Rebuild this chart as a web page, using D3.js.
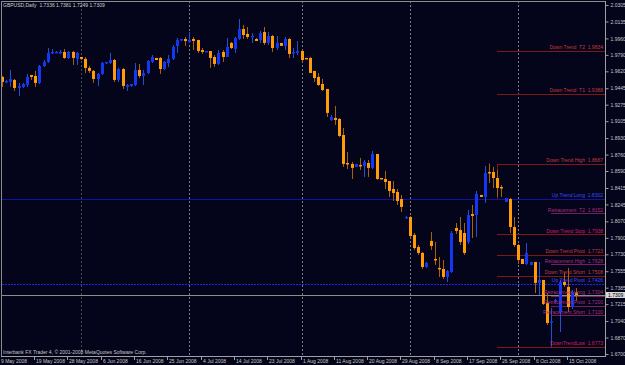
<!DOCTYPE html>
<html>
<head>
<meta charset="utf-8">
<script src="https://cdn.jsdelivr.net/npm/d3@7/dist/d3.min.js"></script>
<style>
  body { margin: 0; background: #04041a; }
  svg { display: block; }
  text { font-family: "Liberation Sans", Arial, sans-serif; font-size: 5px; white-space: pre; }
</style>
</head>
<body>
<svg id="chart" width="625" height="365"></svg>
<script>
// daily GBPUSD bars, 9 May 2008 .. 17 Oct 2008 (MT4 also prints Sunday bars)
var opens = [
  1.9562,1.9510,1.9510,1.9531,1.9448,1.9458,1.9479,1.9582,1.9572,1.9500,
  1.9675,1.9717,1.9810,1.9810,1.9810,1.9820,1.9758,1.9820,1.9748,1.9768,
  1.9748,1.9655,1.9624,1.9541,1.9593,1.9706,1.9706,1.9737,1.9531,1.9644,
  1.9458,1.9469,1.9479,1.9634,1.9572,1.9603,1.9717,1.9758,1.9758,1.9644,
  1.9706,1.9748,1.9882,1.9944,1.9954,1.9923,1.9954,1.9944,1.9840,1.9820,
  1.9830,1.9768,1.9696,1.9820,1.9768,1.9913,1.9851,1.9954,2.0057,2.0006,
  1.9975,1.9954,1.9944,2.0026,1.9913,1.9985,1.9861,1.9913,1.9882,1.9954,
  1.9810,1.9810,1.9830,1.9758,1.9758,1.9624,1.9562,1.9489,1.9438,1.9117,
  1.9138,1.9128,1.8962,1.8673,1.8663,1.8632,1.8653,1.8642,1.8673,1.8622,
  1.8766,1.8518,1.8508,1.8487,1.8405,1.8374,1.8301,1.8105,1.8115,1.7930,
  1.7806,1.7744,1.7599,1.7868,1.7682,1.7589,1.7578,1.7496,1.7547,1.8002,
  1.7981,1.7950,1.7857,1.8146,1.8136,1.8343,1.8322,1.8580,1.8580,1.8518,
  1.8425,1.8270,1.8301,1.8012,1.7826,1.7682,1.7630,1.7620,1.7651,1.7434,
  1.7465,1.7227,1.7031,1.7248,1.7134,1.7444,1.7393,1.7186,1.7336
];
var highs = [
  1.9572,1.9531,1.9634,1.9541,1.9500,1.9500,1.9593,1.9582,1.9624,1.9686,
  1.9737,1.9861,1.9851,1.9830,1.9840,1.9851,1.9830,1.9830,1.9820,1.9768,
  1.9768,1.9675,1.9634,1.9603,1.9717,1.9717,1.9810,1.9748,1.9655,1.9655,
  1.9489,1.9489,1.9706,1.9696,1.9634,1.9737,1.9789,1.9758,1.9768,1.9727,
  1.9789,1.9892,1.9964,1.9954,1.9975,2.0026,1.9975,1.9944,1.9861,1.9830,
  1.9830,1.9789,1.9840,1.9840,1.9964,1.9923,1.9975,2.0161,2.0099,2.0078,
  2.0016,1.9964,2.0037,2.0078,2.0026,1.9995,1.9985,1.9913,1.9975,1.9964,
  1.9861,1.9933,1.9840,1.9758,1.9768,1.9624,1.9603,1.9541,1.9438,1.9169,
  1.9262,1.9138,1.9035,1.8787,1.8684,1.8663,1.8725,1.8704,1.8704,1.8797,
  1.8766,1.8518,1.8591,1.8487,1.8487,1.8405,1.8343,1.8126,1.8126,1.7950,
  1.7826,1.7754,1.7651,1.7961,1.7857,1.7702,1.7671,1.7568,1.7971,1.8053,
  1.8115,1.8053,1.8188,1.8239,1.8384,1.8343,1.8642,1.8667,1.8632,1.8601,
  1.8446,1.8312,1.8312,1.8115,1.7837,1.7682,1.7847,1.7651,1.7651,1.7651,
  1.7465,1.7330,1.7175,1.7270,1.7465,1.7537,1.7589,1.7361,1.7381
];
var lows = [
  1.9458,1.9500,1.9458,1.9417,1.9365,1.9448,1.9458,1.9531,1.9458,1.9489,
  1.9665,1.9706,1.9799,1.9810,1.9799,1.9748,1.9748,1.9686,1.9686,1.9737,
  1.9603,1.9603,1.9500,1.9469,1.9582,1.9696,1.9696,1.9510,1.9510,1.9438,
  1.9417,1.9458,1.9469,1.9551,1.9479,1.9593,1.9706,1.9737,1.9593,1.9634,
  1.9665,1.9737,1.9810,1.9933,1.9882,1.9913,1.9840,1.9810,1.9799,1.9820,
  1.9655,1.9665,1.9686,1.9717,1.9768,1.9851,1.9810,1.9944,1.9954,1.9954,
  1.9913,1.9933,1.9913,1.9892,1.9892,1.9820,1.9840,1.9882,1.9840,1.9758,
  1.9758,1.9789,1.9717,1.9748,1.9603,1.9510,1.9469,1.9417,1.9148,1.9107,
  1.9066,1.8942,1.8632,1.8611,1.8508,1.8632,1.8601,1.8529,1.8529,1.8611,
  1.8498,1.8508,1.8405,1.8322,1.8281,1.8239,1.8167,1.8095,1.7899,1.7775,
  1.7723,1.7578,1.7589,1.7775,1.7620,1.7496,1.7475,1.7444,1.7537,1.7940,
  1.7826,1.7723,1.7837,1.7899,1.7909,1.8322,1.8260,1.8467,1.8415,1.8322,
  1.8322,1.8270,1.7950,1.7806,1.7630,1.7630,1.7620,1.7620,1.7330,1.7310,
  1.7206,1.7000,1.6773,1.7238,1.6927,1.7393,1.7134,1.7165,1.7249
];
var closes = [
  1.9510,1.9520,1.9541,1.9448,1.9469,1.9489,1.9562,1.9562,1.9500,1.9675,
  1.9717,1.9810,1.9820,1.9820,1.9820,1.9758,1.9820,1.9758,1.9810,1.9748,
  1.9655,1.9624,1.9541,1.9593,1.9706,1.9717,1.9737,1.9531,1.9644,1.9469,
  1.9479,1.9489,1.9634,1.9572,1.9603,1.9727,1.9768,1.9737,1.9644,1.9717,
  1.9748,1.9872,1.9944,1.9954,1.9933,1.9944,1.9933,1.9830,1.9820,1.9830,
  1.9758,1.9696,1.9810,1.9768,1.9872,1.9861,1.9964,2.0057,1.9995,1.9975,
  1.9985,1.9933,2.0016,1.9913,1.9985,1.9861,1.9913,1.9882,1.9954,1.9799,
  1.9820,1.9830,1.9737,1.9748,1.9603,1.9551,1.9479,1.9427,1.9190,1.9148,
  1.9117,1.8952,1.8663,1.8663,1.8622,1.8663,1.8642,1.8684,1.8622,1.8766,
  1.8508,1.8508,1.8477,1.8384,1.8363,1.8281,1.8219,1.8115,1.7919,1.7795,
  1.7744,1.7599,1.7640,1.7816,1.7671,1.7578,1.7496,1.7558,1.7950,1.7971,
  1.7857,1.7744,1.8136,1.8126,1.8353,1.8322,1.8570,1.8570,1.8518,1.8415,
  1.8415,1.8312,1.8012,1.7826,1.7671,1.7630,1.7744,1.7651,1.7434,1.7465,
  1.7217,1.7020,1.7041,1.7258,1.7444,1.7413,1.7186,1.7341,1.7309
];

var priceTicks = [2.0305, 2.0135, 1.9960, 1.9790, 1.9620, 1.9445, 1.9275, 1.9105, 1.8930, 1.8760, 1.8590,
                  1.8415, 1.8245, 1.8070, 1.7900, 1.7730, 1.7555, 1.7385, 1.7215, 1.7040, 1.6870, 1.6700];
var timeLabels = ["9 May 2008", "19 May 2008", "28 May 2008", "6 Jun 2008", "16 Jun 2008", "25 Jun 2008",
                  "4 Jul 2008", "14 Jul 2008", "23 Jul 2008", "1 Aug 2008", "11 Aug 2008", "20 Aug 2008",
                  "29 Aug 2008", "8 Sep 2008", "17 Sep 2008", "26 Sep 2008", "6 Oct 2008", "15 Oct 2008"];

// indicator levels printed on the right
var levelNames  = ["Down Trend  T2", "Down Trend  T1", "Down Trend High", "Up Trend Long", "Retracement  T2",
                   "Down Trend Stop", "Down Trend Pivot", "Retracement High", "Down Trend Short", "Up Trend Pivot",
                   "Retracement Long", "Retracement Pivot", "Retracement Short", "DownTrendLow"];
var levelValues = [1.9834, 1.9388, 1.8667, 1.8302, 1.8152, 1.7938, 1.7723, 1.7628, 1.7508, 1.7426,
                   1.7304, 1.7200, 1.7100, 1.6773];
var levelKinds  = ["down", "down", "down", "upLong", "retr", "stop", "down", "retr", "down", "upPivot",
                   "retr", "retr", "retr", "stop"];
var lastBar = {open: 1.7336, high: 1.7381, low: 1.7249, close: 1.7309};

var W = 625, H = 365;
var plotL = 2, plotR = 605, plotT = 1, plotB = 356;

// bar dates: every calendar day except Saturday
var dates = d3.timeDay.range(new Date(2008, 4, 9), new Date(2008, 9, 18))
  .filter(function(d) { return d.getDay() !== 6; });

var bars = dates.map(function(d, i) {
  return {date: d, open: opens[i], high: highs[i], low: lows[i], close: closes[i]};
});

var svg = d3.select("#chart");

svg.append("rect").attr("width", W).attr("height", H).attr("fill", "#04041a");

var x = d3.scalePoint().domain(dates).range([1.9, 576.3]);
var y = d3.scaleLinear().domain([1.6700, 2.0305]).range([354, 5]);

var kindStyle = {
  down:    {line: "#801616", text: "#c43c3c", from: 119},
  stop:    {line: "#801616", text: "#d81e64", from: 119},
  retr:    {line: "#761c62", text: "#ac327e", from: 132},
  upLong:  {line: "#1212a6", text: "#3c4cff", from: 0},
  upPivot: {line: "#2424f0", text: "#3c4cff", from: 0}
};

// month separators
var monthStarts = dates.filter(function(d, i) { return i > 0 && d.getMonth() !== dates[i - 1].getMonth(); });
svg.selectAll(".sep")
  .data(monthStarts)
  .enter().append("line")
  .attr("x1", function(d) { return Math.round(x(d)) + 0.5; })
  .attr("x2", function(d) { return Math.round(x(d)) + 0.5; })
  .attr("y1", plotT).attr("y2", plotB)
  .attr("stroke", function(d, i) { return i === 0 ? "#4a4a4a" : "#7e7e7e"; })
  .attr("stroke-dasharray", "2,2");

// level lines
var levels = levelValues.map(function(v, i) { return {name: levelNames[i], value: v, kind: levelKinds[i]}; });

svg.selectAll(".lvl")
  .data(levels)
  .enter().append("line")
  .attr("x1", function(d) { return kindStyle[d.kind].from === 0 ? plotL : Math.round(x(dates[kindStyle[d.kind].from])); })
  .attr("x2", plotR)
  .attr("y1", function(d) { return Math.round(y(d.value)) + 0.5; })
  .attr("y2", function(d) { return Math.round(y(d.value)) + 0.5; })
  .attr("stroke", function(d) { return kindStyle[d.kind].line; })
  .attr("stroke-dasharray", function(d) { return d.kind === "upPivot" ? "2,1" : null; });

// short vertical link from the trend high down to the long level
svg.append("line")
  .attr("x1", Math.round(x(dates[119])) + 0.5).attr("x2", Math.round(x(dates[119])) + 0.5)
  .attr("y1", Math.round(y(levelValues[2])) + 0.5).attr("y2", Math.round(y(levelValues[3])))
  .attr("stroke", "#801616");

// bid line
svg.append("line")
  .attr("x1", plotL).attr("x2", plotR)
  .attr("y1", Math.round(y(lastBar.close)) + 0.5).attr("y2", Math.round(y(lastBar.close)) + 0.5)
  .attr("stroke", "#8c8c8c");

// candles
var g = svg.append("g");
g.selectAll(".wick")
  .data(bars)
  .enter().append("line")
  .attr("x1", function(d) { return Math.round(x(d.date)) + 0.5; })
  .attr("x2", function(d) { return Math.round(x(d.date)) + 0.5; })
  .attr("y1", function(d) { return y(d.high); })
  .attr("y2", function(d) { return y(d.low); })
  .attr("stroke", function(d) { return d.close >= d.open ? "#2450d0" : "#a86200"; });

g.selectAll(".body")
  .data(bars)
  .enter().append("rect")
  .attr("x", function(d) { return Math.round(x(d.date)) - 1; })
  .attr("width", 3)
  .attr("y", function(d) { return y(Math.max(d.open, d.close)); })
  .attr("height", function(d) { return Math.max(1.5, Math.abs(y(d.open) - y(d.close))); })
  .attr("fill", function(d) { return d.close >= d.open ? "#1436f5" : "#ff9a0a"; });

// level labels
svg.selectAll(".lbl")
  .data(levels)
  .enter().append("text")
  .attr("x", 603)
  .attr("y", function(d) { return y(d.value) - 1.5; })
  .attr("text-anchor", "end")
  .attr("fill", function(d) { return kindStyle[d.kind].text; })
  .text(function(d) { return d.name + "  " + d.value.toFixed(4); });

// frame
svg.append("line").attr("x1", plotL).attr("x2", plotR).attr("y1", plotT + 0.5).attr("y2", plotT + 0.5).attr("stroke", "#8c8c8c");
svg.append("line").attr("x1", plotL - 0.5).attr("x2", plotL - 0.5).attr("y1", plotT).attr("y2", plotB).attr("stroke", "#8c8c8c");

// price axis
var yAxis = d3.axisRight(y).tickValues(priceTicks).tickSize(3).tickPadding(2)
  .tickFormat(function(d) { return d.toFixed(4); });
var ya = svg.append("g").attr("transform", "translate(" + (plotR + 0.5) + ",0)").call(yAxis);
ya.select(".domain").attr("stroke", "#a0a0a0").attr("d", "M0," + plotT + "V" + (plotB + 1));
ya.selectAll(".tick line").attr("stroke", "#a0a0a0");
ya.selectAll(".tick text").attr("fill", "#c8c8c8").style("font-size", "5px")
  .style("font-family", "'Liberation Sans', Arial, sans-serif");

// bid box
var bidY = Math.round(y(lastBar.close));
svg.append("rect").attr("x", 606).attr("y", bidY - 3).attr("width", 19).attr("height", 6).attr("fill", "#d8d8d8");
svg.append("text").attr("x", 608).attr("y", bidY + 2).attr("fill", "#000").text(lastBar.close.toFixed(4));

// time axis
svg.append("line").attr("x1", plotL - 1).attr("x2", plotR + 1).attr("y1", plotB + 0.5).attr("y2", plotB + 0.5).attr("stroke", "#a0a0a0");
var labelBars = timeLabels.map(function(t) {
  var f = d3.timeFormat("%-d %b %Y");
  return dates.filter(function(d) { return f(d) === t; })[0];
});
var ta = svg.selectAll(".tl")
  .data(labelBars)
  .enter().append("g")
  .attr("transform", function(d) { return "translate(" + (Math.round(x(d)) - 1) + ",0)"; });
ta.append("line").attr("x1", 0.5).attr("x2", 0.5).attr("y1", plotB).attr("y2", plotB + 4).attr("stroke", "#a0a0a0")
  .attr("opacity", function(d, i) { return i === 0 ? 0 : 1; });
ta.append("text").attr("x", function(d, i) { return i === 0 ? 0 : 2; }).attr("y", 363).attr("fill", "#c8c8c8")
  .text(function(d, i) { return timeLabels[i]; });

// titles
svg.append("text").attr("x", 3).attr("y", 7).attr("fill", "#d0d0d0")
  .text("GBPUSD,Daily  " + [lastBar.open, lastBar.high, lastBar.low, lastBar.close].map(function(v) { return v.toFixed(4); }).join(" "));
svg.append("text").attr("x", 3).attr("y", 353.5).attr("fill", "#c8c8c8")
  .text("Interbank FX Trader 4, \u00a9 2001-2008 MetaQuotes Software Corp.");
</script>
</body>
</html>
